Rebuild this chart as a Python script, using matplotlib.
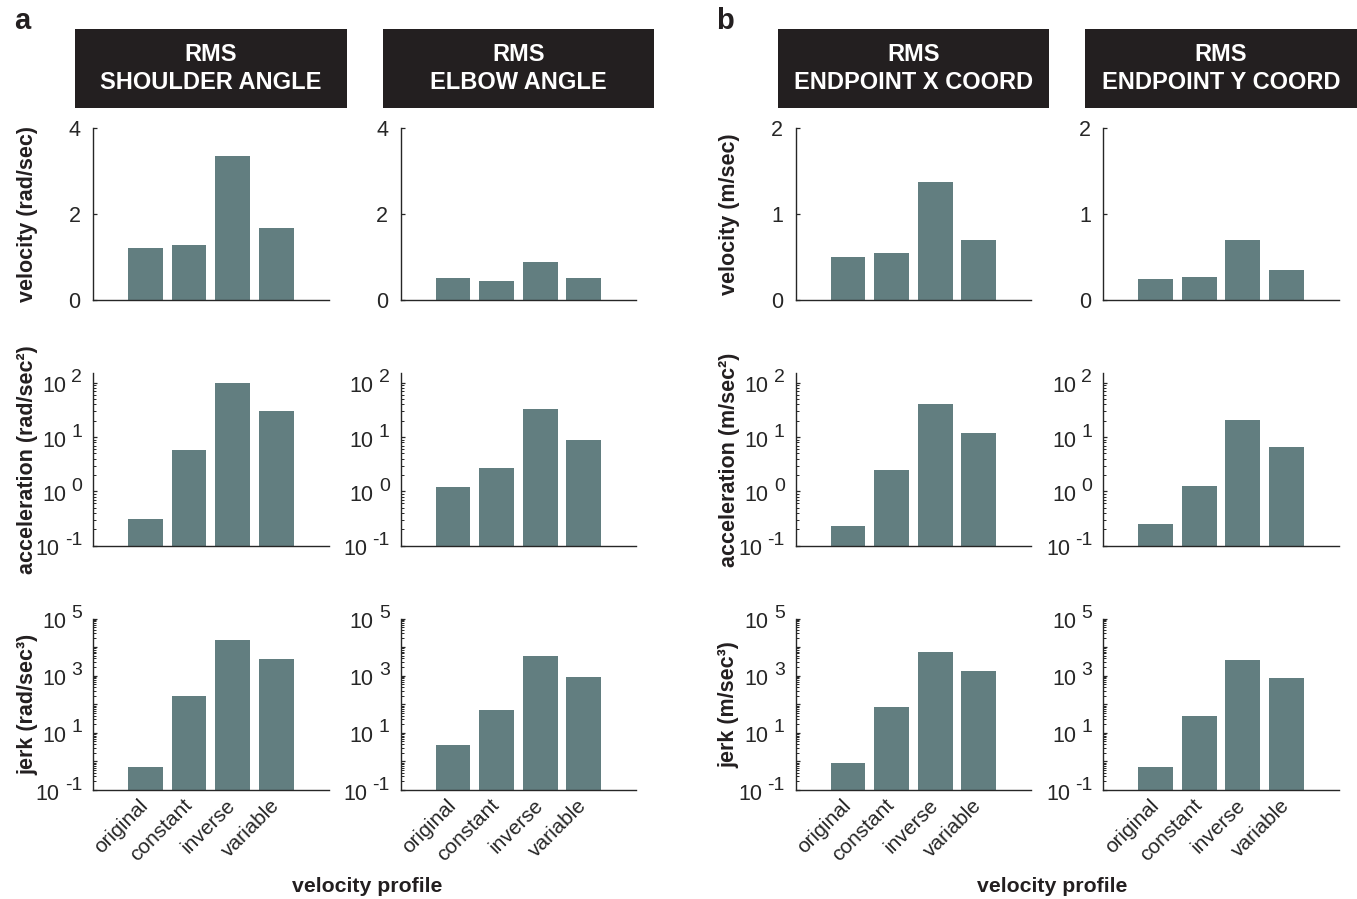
import matplotlib
matplotlib.use("Agg")
import matplotlib.pyplot as plt
from matplotlib.patches import Rectangle
from matplotlib.transforms import offset_copy

plt.rcParams['font.family'] = ['Liberation Sans', 'DejaVu Sans']

# ---------------- data ----------------
profiles = ["original", "constant", "inverse", "variable"]
titles = ["RMS\nSHOULDER ANGLE", "RMS\nELBOW ANGLE",
          "RMS\nENDPOINT X COORD", "RMS\nENDPOINT Y COORD"]

shoulder_vel = [1.22, 1.28, 3.36, 1.67]
elbow_vel = [0.51, 0.44, 0.89, 0.51]
endx_vel = [0.50, 0.55, 1.37, 0.70]
endy_vel = [0.245, 0.27, 0.70, 0.35]

shoulder_acc = [0.31, 5.8, 100, 30.5]
elbow_acc = [1.21, 2.7, 33, 8.9]
endx_acc = [0.23, 2.5, 41, 12]
endy_acc = [0.25, 1.26, 21, 6.6]

shoulder_jerk = [0.65, 200, 17400, 3700]
elbow_jerk = [3.8, 65, 4700, 930]
endx_jerk = [0.89, 83, 7000, 1500]
endy_jerk = [0.65, 40, 3400, 800]

ylabels_angle = ["velocity (rad/sec)", "acceleration (rad/sec\u00b2)", "jerk (rad/sec\u00b3)"]
ylabels_end = ["velocity (m/sec)", "acceleration (m/sec\u00b2)", "jerk (m/sec\u00b3)"]

data = [
    [shoulder_vel, elbow_vel, endx_vel, endy_vel],
    [shoulder_acc, elbow_acc, endx_acc, endy_acc],
    [shoulder_jerk, elbow_jerk, endx_jerk, endy_jerk],
]

# ---------------- layout ----------------
W, H = 1357, 899
fig = plt.figure(figsize=(W / 100, H / 100), dpi=100)

col_x0 = [93, 400.7, 795.7, 1103.3]
col_w = 235.5
row_top = [128, 373.3, 618.5]
row_bot = [300, 545.7, 790]

BAR = '#627E80'
AX = '#262626'
TXT = '#231F20'

lin_ylims = [(0, 4), (0, 4), (0, 2), (0, 2)]
lin_yticks = [[0, 2, 4], [0, 2, 4], [0, 1, 2], [0, 1, 2]]
log_ylims = [(0.1, 150), (0.1, 1e5)]
log_label_exps = [[-1, 0, 1, 2], [-1, 1, 3, 5]]
log_major_exps = [[-1, 0, 1, 2], [-1, 0, 1, 2, 3, 4, 5]]

x = [1, 2, 3, 4]

def fr(px, py):
    return px / W, 1 - py / H

for r in range(3):
    for c in range(4):
        x0 = col_x0[c]
        l, b = fr(x0, row_bot[r])
        ax = fig.add_axes([l, b, col_w / W, (row_bot[r] - row_top[r]) / H])
        ax.bar(x, data[r][c], width=0.8, color=BAR, zorder=2)
        ax.set_xlim(-0.2, 5.2)
        for s in ['top', 'right']:
            ax.spines[s].set_visible(False)
        for s in ['left', 'bottom']:
            ax.spines[s].set_color(AX)
            ax.spines[s].set_linewidth(1.0)
        ax.set_xticks(x)
        ax.tick_params(axis='both', which='major', direction='in', length=3,
                       width=0.9, color=AX, labelcolor=AX)
        ax.tick_params(axis='y', which='minor', direction='in', length=2,
                       width=0.7, color=AX)
        if r == 2:
            ax.set_xticklabels(profiles, rotation=45, ha='right', va='center',
                               rotation_mode='anchor', fontsize=15, color=AX)
            ax.tick_params(axis='x', pad=9)
        else:
            ax.set_xticklabels([])
        if r == 0:
            ax.set_ylim(*lin_ylims[c])
            ax.set_yticks(lin_yticks[c])
            ax.set_yticklabels([str(t) for t in lin_yticks[c]], fontsize=15.5)
            ax.tick_params(axis='y', pad=9)
        else:
            ax.set_yscale('log')
            lo, hi = log_ylims[r - 1]
            ax.set_ylim(lo, hi)
            ax.set_yticks([10.0 ** e for e in log_major_exps[r - 1]])
            ax.yaxis.set_minor_locator(matplotlib.ticker.LogLocator(base=10, subs=range(2, 10), numticks=20))
            ax.set_yticklabels([])
            ax.yaxis.set_minor_formatter(matplotlib.ticker.NullFormatter())
            for e in log_label_exps[r - 1]:
                tr = offset_copy(ax.get_yaxis_transform(), fig=fig, x=-11, y=5, units='dots')
                sup = ax.text(0, 10.0 ** e, str(e), transform=tr, ha='right',
                              va='center', fontsize=14, color=AX)
                ax.annotate('10', xy=(0, 0.5), xycoords=sup, xytext=(-5, -9),
                            textcoords='offset pixels', ha='right', va='center',
                            fontsize=15.5, color=AX)
        # y labels on first column of each panel
        if c in (0, 2):
            lab = ylabels_angle[r] if c == 0 else ylabels_end[r]
            lx = 27.5 if c == 0 else 729
            cy = (row_top[r] + row_bot[r]) / 2
            fx, fy = fr(lx, cy)
            fig.text(fx, fy, lab, rotation=90, ha='center', va='center',
                     fontsize=15.5, fontweight='bold', color=TXT)

# title boxes
for c in range(4):
    bx0 = col_x0[c] - 18
    bx1 = col_x0[c] + col_w + 18
    by0, by1 = 29, 107.7
    l, b = fr(bx0, by1)
    fig.patches.append(Rectangle((l, b), (bx1 - bx0) / W, (by1 - by0) / H,
                                 transform=fig.transFigure, facecolor='#231F20',
                                 edgecolor='none'))
    tx, ty = fr((bx0 + bx1) / 2, (by0 + by1) / 2)
    fig.text(tx, ty, titles[c], ha='center', va='center', color='white',
             fontsize=17, fontweight='bold', linespacing=1.25)

# panel letters
for lab, px in [("a", 22), ("b", 725)]:
    fx, fy = fr(px, 21)
    fig.text(fx, fy, lab, ha='center', va='center', fontsize=21,
             fontweight='bold', color=TXT)

# x labels
for px in [367, 1052]:
    fx, fy = fr(px, 887)
    fig.text(fx, fy, "velocity profile", ha='center', va='center',
             fontsize=15.3, fontweight='bold', color=TXT)

fig.savefig("out.png", dpi=100, facecolor='white')
